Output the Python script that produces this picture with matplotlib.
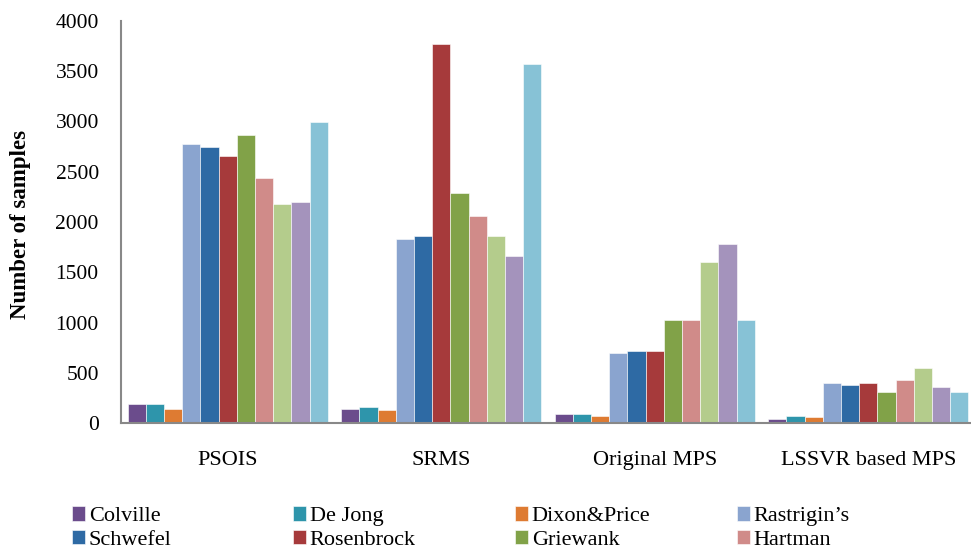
import matplotlib.pyplot as plt
import numpy as np

groups = ['PSOIS', 'SRMS', 'Original MPS', 'LSSVR based MPS']
functions = ['Colville', 'De Jong', 'Dixon&Price', 'Rastrigin\u2019s', 'Schwefel',
             'Rosenbrock', 'Griewank', 'Hartman', 'Six-hump', 'Goldstein-Price', 'Branin']
colors = ['#6B4C8C', '#2E95AB', '#DE7B32', '#8AA4CF', '#2E6AA4', '#A63A3B',
          '#81A248', '#D08B89', '#B4CC8C', '#A493BC', '#87C2D6']

# samples per function, one list per method
psois = [190, 190, 140, 2780, 2750, 2660, 2870, 2440, 2180, 2200, 3000]
srms = [140, 155, 125, 1830, 1860, 3770, 2290, 2060, 1860, 1660, 3570]
orig_mps = [90, 90, 70, 700, 720, 720, 1025, 1025, 1600, 1780, 1025]
lssvr_mps = [40, 70, 55, 395, 380, 400, 310, 430, 550, 360, 310]

data = np.array([psois, srms, orig_mps, lssvr_mps])

plt.rcParams['font.family'] = ['Liberation Serif', 'DejaVu Serif']

fig = plt.figure(figsize=(9.71, 5.52), dpi=100)
ax = fig.add_axes([121/971, (552-423)/552, 854/971, 402/552])

x = np.arange(len(groups))
n = len(functions)
w = 0.9375 / n
handles = []
for i, name in enumerate(functions):
    b = ax.bar(x - 0.9375/2 + w*(i+0.5), data[:, i], width=w, color=colors[i],
               edgecolor='white', linewidth=0.4, label=name)
    handles.append(b)

ax.set_xlim(-0.5, len(groups) - 0.5)
ax.set_ylim(0, 4000)
ax.set_yticks(np.arange(0, 4001, 500))
ax.set_xticks(x)
ax.set_xticklabels(groups, fontsize=16)
ax.tick_params(axis='y', labelsize=15.5)
ax.tick_params(axis='both', length=0)
ax.tick_params(axis='x', pad=20)
ax.tick_params(axis='y', pad=16)
for s in ['top', 'right']:
    ax.spines[s].set_visible(False)
for s in ['left', 'bottom']:
    ax.spines[s].set_color('#888888')
    ax.spines[s].set_linewidth(1.5)

ax.set_ylabel('Number of samples', fontsize=16.5, fontweight='bold')
ax.yaxis.set_label_coords(-0.105, 0.495)

# legend: two rows of four, one legend per column
col_x = [72, 293, 515, 737]
for c in range(4):
    idx = [c, c + 4]
    lg = fig.legend([handles[k] for k in idx], [functions[k] for k in idx],
                    loc='center left', bbox_to_anchor=(col_x[c]/971, 1 - 528/552),
                    frameon=False, fontsize=16, handlelength=0.6, handleheight=0.6,
                    handletextpad=0.15, labelspacing=0.15, borderpad=0, borderaxespad=0)

fig.savefig('out.png', dpi=100)
